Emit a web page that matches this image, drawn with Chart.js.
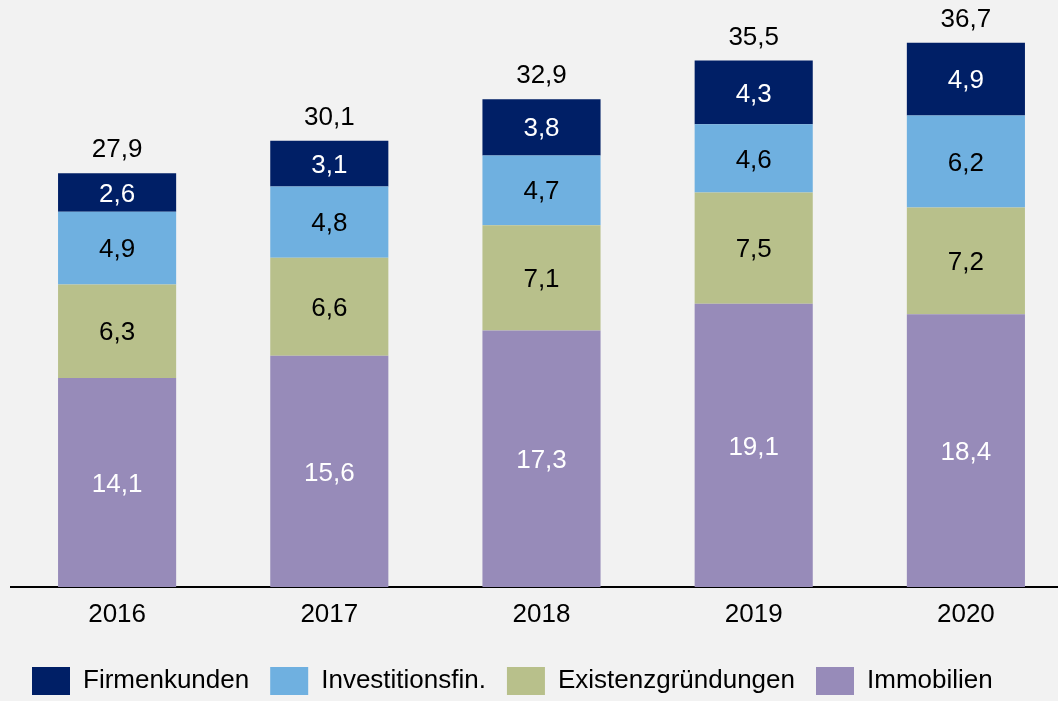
<!DOCTYPE html>
<html>
<head>
<meta charset="utf-8">
<script src="https://cdn.jsdelivr.net/npm/chart.js@4/dist/chart.umd.min.js"></script>
<style>
  html, body { margin: 0; padding: 0; background: #f2f2f2; overflow: hidden; width: 1058px; height: 701px; }
  #wrap { position: relative; width: 1072px; height: 701px; }
</style>
</head>
<body>
<div id="wrap"><canvas id="c"></canvas></div>
<script>
const years = ['2016', '2017', '2018', '2019', '2020'];
const immobilien = [14.1, 15.6, 17.3, 19.1, 18.4];
const existenz = [6.3, 6.6, 7.1, 7.5, 7.2];
const investition = [4.9, 4.8, 4.7, 4.6, 6.2];
const firmenkunden = [2.6, 3.1, 3.8, 4.3, 4.9];
const totals = [27.9, 30.1, 32.9, 35.5, 36.7];

const FONT = "'Liberation Sans', Arial, sans-serif";
const fmt = v => v.toFixed(1).replace('.', ',');

const labelPlugin = {
  id: 'valueLabels',
  afterDatasetsDraw(chart) {
    const ctx = chart.ctx;
    ctx.save();
    ctx.font = '26px ' + FONT;
    ctx.textAlign = 'center';
    ctx.textBaseline = 'middle';
    chart.data.datasets.forEach((ds, di) => {
      const meta = chart.getDatasetMeta(di);
      meta.data.forEach((el, i) => {
        const cy = (el.y + el.base) / 2 + 2;
        ctx.fillStyle = ds.labelColor;
        ctx.fillText(fmt(ds.data[i]), el.x, cy);
      });
    });
    const top = chart.getDatasetMeta(chart.data.datasets.length - 1);
    top.data.forEach((el, i) => {
      ctx.fillStyle = '#000000';
      ctx.fillText(fmt(totals[i]), el.x, el.y - 23);
    });
    ctx.restore();
  }
};

new Chart(document.getElementById('c'), {
  type: 'bar',
  data: {
    labels: years,
    datasets: [
      { label: 'Immobilien', data: immobilien, backgroundColor: '#978bb9', labelColor: '#ffffff' },
      { label: 'Existenzgründungen', data: existenz, backgroundColor: '#b8c08b', labelColor: '#000000' },
      { label: 'Investitionsfin.', data: investition, backgroundColor: '#6fb0e0', labelColor: '#000000' },
      { label: 'Firmenkunden', data: firmenkunden, backgroundColor: '#001f66', labelColor: '#ffffff' }
    ]
  },
  options: {
    responsive: true,
    maintainAspectRatio: false,
    animation: false,
    datasets: { bar: { categoryPercentage: 1, barPercentage: 0.5566, borderWidth: 0 } },
    layout: { padding: { left: 11, right: 0, top: 23.5, bottom: -4 } },
    scales: {
      x: {
        stacked: true,
        grid: { display: false, drawTicks: false },
        border: { display: true, color: '#000000', width: 2 },
        ticks: { color: '#000000', font: { family: FONT, size: 26 }, padding: 12, autoSkip: false, maxRotation: 0 },
        afterFit: s => { s.height = 59; }
      },
      y: {
        stacked: true,
        display: false,
        min: 0,
        max: 38
      }
    },
    plugins: {
      tooltip: { enabled: false },
      legend: {
        position: 'bottom',
        align: 'start',
        reverse: true,
        labels: {
          boxWidth: 38,
          boxHeight: 28,
          padding: 21,
          color: '#000000',
          font: { family: FONT, size: 26 }
        }
      }
    }
  },
  plugins: [labelPlugin]
});
</script>
</body>
</html>
